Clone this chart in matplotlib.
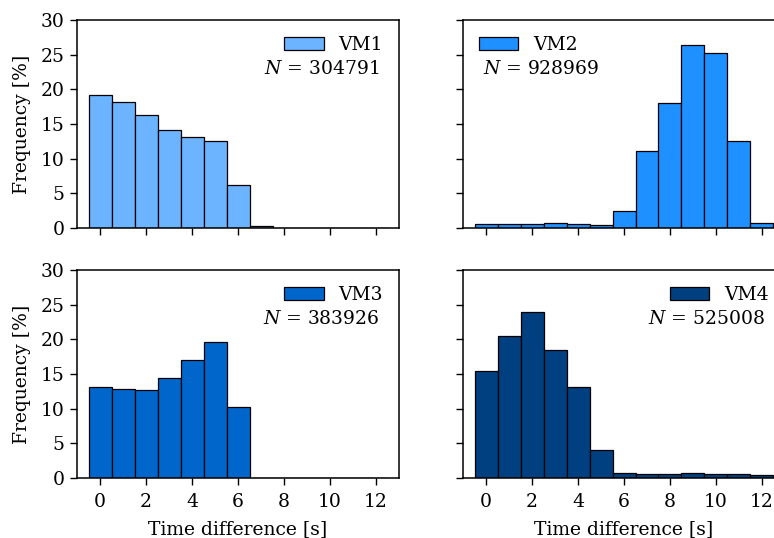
import numpy as np
import matplotlib
matplotlib.use("Agg")
import matplotlib.pyplot as plt

plt.rcParams['font.family'] = ['DejaVu Serif']
plt.rcParams['mathtext.fontset'] = 'dejavuserif'

bins = list(range(13))
names = ["VM1", "VM2", "VM3", "VM4"]
counts = [304791, 928969, 383926, 525008]
colors = ["#6cb4ff", "#1e90ff", "#0066cc", "#004080"]
vm1 = [19.23, 18.22, 16.3, 14.09, 13.17, 12.6, 6.2, 0.24, 0, 0, 0, 0, 0]
vm2 = [0.53, 0.58, 0.63, 0.67, 0.53, 0.43, 2.45, 11.15, 18.1, 26.4, 25.3, 12.55, 0.77]
vm3 = [13.17, 12.8, 12.7, 14.47, 16.97, 19.66, 10.19, 0, 0, 0, 0, 0, 0]
vm4 = [15.38, 20.43, 23.89, 18.5, 13.13, 3.99, 0.77, 0.63, 0.63, 0.67, 0.58, 0.63, 0.43]
series = [vm1, vm2, vm3, vm4]
legend_loc = ["right", "left", "right", "right"]

W, H = 774, 538
fig = plt.figure(figsize=(W / 100, H / 100), dpi=100)

boxes = [(77, 20, 322, 208), (463, 20, 322, 208),
         (77, 270, 322, 208), (463, 270, 322, 208)]
fs = 13.5
for i, (x, y, w, h) in enumerate(boxes):
    ax = fig.add_axes([x / W, 1 - (y + h) / H, w / W, h / H])
    ax.bar(bins, series[i], width=1.0, color=colors[i], edgecolor='black',
           linewidth=0.9, label=names[i])
    ax.set_xlim(-1, 13)
    ax.set_ylim(0, 30)
    ax.set_xticks([0, 2, 4, 6, 8, 10, 12])
    ax.set_yticks([0, 5, 10, 15, 20, 25, 30])
    ax.tick_params(direction='out', length=5, width=1.0, labelsize=fs, pad=4)
    ax.tick_params(axis='x', pad=6)
    for s in ax.spines.values():
        s.set_linewidth(1.1)
    if i % 2 == 0:
        ax.set_ylabel("Frequency [%]", fontsize=fs, labelpad=7)
    else:
        ax.tick_params(labelleft=False)
    if i < 2:
        ax.tick_params(labelbottom=False)
    else:
        ax.set_xlabel("Time difference [s]", fontsize=fs, labelpad=6)
    if legend_loc[i] == "right":
        ax.legend(loc='upper right', frameon=False, fontsize=fs,
                  handlelength=2.1, handletextpad=0.8, borderaxespad=0.45)
        ax.text(0.938, 0.74, r"$N$ = %d" % counts[i], transform=ax.transAxes,
                ha='right', va='baseline', fontsize=fs)
    else:
        ax.legend(loc='upper left', frameon=False, fontsize=fs,
                  handlelength=2.1, handletextpad=0.8, borderaxespad=0.45)
        ax.text(0.061, 0.74, r"$N$ = %d" % counts[i], transform=ax.transAxes,
                ha='left', va='baseline', fontsize=fs)

fig.savefig("out.png", dpi=100)
